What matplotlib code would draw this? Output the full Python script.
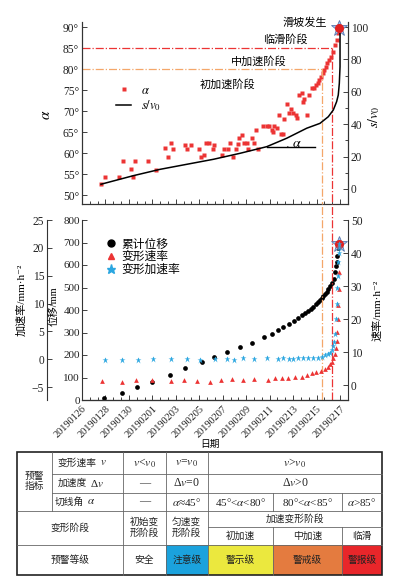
import numpy as np
import matplotlib
matplotlib.use('Agg')
import matplotlib.pyplot as plt
from matplotlib.ticker import MultipleLocator, FuncFormatter
from matplotlib.lines import Line2D
from matplotlib.patches import Rectangle, Arc

plt.rcParams['font.family'] = ['Liberation Serif', 'Noto Sans CJK SC', 'DejaVu Sans']
plt.rcParams['mathtext.fontset'] = 'stix'

############### data (x = days after 2019-01-26) ###############
alpha_day = [1.62, 1.99, 3.18, 3.52, 4.18, 4.38, 4.55, 5.6, 6.28, 7.08, 7.3, 7.62, 7.79,
             8.81, 8.95, 9.27, 9.97, 10.14, 10.4, 10.57, 10.85, 11.14, 11.28, 11.91, 12.1,
             12.42, 12.62, 12.9, 13.13, 13.33, 13.41, 13.61, 13.84, 14.04, 14.18, 14.47,
             14.66, 14.81, 15.03, 15.46, 15.75, 15.97, 16.17, 16.31, 16.39, 16.6, 16.82,
             16.97, 17.16, 17.25, 17.45, 17.67, 17.84, 18.02, 18.22, 18.36, 18.5, 18.73,
             18.81, 18.95, 19.21, 19.38, 19.58, 19.78, 19.95, 20.09, 20.23, 20.37, 20.52,
             20.63, 20.77, 20.91, 21.06, 21.23, 21.4, 21.57, 21.71, 21.85, 21.94]
alpha_val = [52.7, 54.4, 54.4, 58.0, 56.3, 54.4, 58.0, 58.0, 56.0, 61.1, 59.1, 62.3, 61.0,
             62.0, 61.0, 62.0, 61.0, 59.0, 59.5, 62.3, 62.3, 61.0, 62.0, 59.5, 61.0,
             61.0, 62.3, 59.1, 61.0, 62.1, 63.5, 64.4, 62.3, 62.3, 61.0, 63.5,
             62.3, 65.5, 61.0, 66.4, 66.4, 66.4, 65.5, 65.1, 66.4, 65.9, 69.0,
             64.5, 64.5, 68.0, 71.7, 69.6, 70.4, 69.6, 69.0, 68.3, 73.8, 74.2,
             72.2, 72.8, 69.0, 73.8, 75.4, 75.6, 76.2, 76.7, 77.4, 78.2, 79.0,
             79.8, 80.6, 81.4, 82.1, 82.9, 84.1, 85.7, 86.9, 88.5, 89.7]

sv_day = [1.62, 4.38, 6.65, 8.92, 11.2, 13.47, 15.75, 17.45, 19.16, 20.29, 21.0, 21.43,
          21.71, 21.85, 21.94, 22.0, 22.0, 22.0]
sv_val = [2.9, 8.2, 12.1, 15.2, 18.3, 22.0, 26.1, 31.3, 37.5, 40.5, 44.6, 48.8,
          53.9, 58.0, 65.2, 75.5, 92.0, 97.0]

disp_day = [1.88, 3.41, 4.72, 6.0, 7.5, 8.8, 10.23, 11.28, 12.33, 13.47, 14.49, 15.49,
            16.17, 16.74, 17.17, 17.65, 18.07, 18.44, 18.8, 19.05, 19.3, 19.5, 19.72,
            19.93, 20.15, 20.3, 20.43, 20.58, 20.72, 20.86, 21.0, 21.15, 21.3, 21.45,
            21.57, 21.65, 21.7, 21.78, 21.85, 21.9]
disp_val = [10, 33, 60, 82, 113, 141, 167, 191, 212, 234, 255, 279,
            295, 311, 324, 338, 351, 363, 378, 387, 396, 405, 415,
            426, 437, 445, 452, 461, 470, 481, 492, 505, 518, 540,
            570, 595, 615, 640, 675, 692]

rate_day = [1.73, 3.41, 4.6, 6.0, 7.56, 8.72, 9.77, 10.94, 11.82, 12.76, 13.75, 14.7,
            15.9, 16.48, 17.08, 17.6, 18.16, 18.73, 19.2, 19.57, 19.95, 20.35, 20.7,
            20.95, 21.14, 21.3, 21.43, 21.55, 21.65, 21.72, 21.77, 21.82, 21.85, 21.88,
            21.9, 21.93]
rate_val = [1.2, 1.0, 1.5, 1.7, 1.2, 1.6, 1.3, 1.0, 1.5, 1.8, 1.7, 1.9,
            1.7, 2.1, 2.2, 2.3, 2.4, 2.6, 3.2, 3.6, 4.0, 4.4, 5.0,
            5.6, 6.3, 7.1, 8.1, 9.5, 11.1, 13.5, 16.2, 20.0, 24.2, 29.0,
            34.3, 42.6]

acc_day = [1.96, 3.38, 4.8, 6.08, 7.56, 8.92, 10.06, 11.34, 12.33, 12.99, 13.75, 14.69,
           15.8, 16.74, 17.16, 17.65, 18.02, 18.44, 18.87, 19.3, 19.72, 20.15, 20.43,
           20.75, 21.0, 21.15, 21.29, 21.42, 21.51, 21.58, 21.65, 21.72, 21.77, 21.82,
           21.85, 21.88, 21.9, 21.93]
acc_val = [-0.2, -0.2, -0.1, 0.0, 0.0, 0.0, -0.1, 0.0, 0.0, -0.2, 0.15, 0.1,
           0.15, 0.1, 0.15, 0.05, 0.1, 0.15, 0.15, 0.2, 0.25, 0.3, 0.45,
           0.7, 0.93, 1.2, 1.65, 2.3, 3.15, 4.5, 7.3, 10.0, 12.7, 15.0,
           17.5, 19.0, 20.0, 20.6]

date_ticks = [0, 2, 4, 6, 8, 10, 12, 14, 16, 18, 20, 22]
date_labels = ['20190126', '20190128', '20190130', '20190201', '20190203', '20190205',
               '20190207', '20190209', '20190211', '20190213', '20190215', '20190217']

slide_day = 21.95
slide_disp = 692
t_orange = 20.46        # start of middle acceleration
t_red = 21.3            # start of imminent sliding
alpha_orange = 80
alpha_red = 85

RED = '#ec3434'
ORANGE = '#f4a76a'
BLUE = '#2aa6e0'

W, H = 396, 587
fig = plt.figure(figsize=(W / 100, H / 100), dpi=100)


def box(x0, y0, x1, y1):
    return [x0 / W, 1 - y1 / H, (x1 - x0) / W, (y1 - y0) / H]


def style(ax):
    for s in ax.spines.values():
        s.set_linewidth(0.8)
        s.set_color('#333333')
    ax.tick_params(which='both', direction='in', width=0.6, labelsize=8.3, colors='#222222', pad=2)
    ax.tick_params(which='major', length=3.5)
    ax.tick_params(which='minor', length=2)


XMAX = 22.68
######################## upper chart ########################
ax1 = fig.add_axes(box(82, 22, 348, 204))
ax1r = ax1.twinx()
for a in (ax1, ax1r):
    style(a)
    a.spines['top'].set_visible(False)
ax1.set_xlim(0, XMAX)
ax1.set_ylim(47.86, 91.2)
ax1r.set_ylim(-9.3, 103.1)
ax1.xaxis.set_major_locator(MultipleLocator(2))
ax1.xaxis.set_minor_locator(MultipleLocator(2 / 3))
ax1.set_xticklabels([])
ax1.yaxis.set_major_locator(MultipleLocator(5))
ax1.yaxis.set_major_formatter(FuncFormatter(lambda v, p: f'{v:.0f}°'))
ax1r.yaxis.set_major_locator(MultipleLocator(20))
ax1r.yaxis.set_minor_locator(MultipleLocator(10))

ax1.plot(alpha_day, alpha_val, 's', color=RED, ms=2.4, mec='none')
ax1r.plot(sv_day, sv_val, '-', color='k', lw=1.1)
# tangent line + angle
ax1r.plot([15.75, 19.86], [25.7, 25.7], color='k', lw=1.0)
ax1r.add_patch(Arc((15.75, 25.7), 2 * 1.8, 2 * 13.0, theta1=0, theta2=22, color='k', lw=0.7))
ax1r.text(18.3, 28.3, r'$\alpha$', fontsize=10, ha='center', va='center')

ax1.plot([0, t_red], [alpha_red, alpha_red], ls='-.', color=RED, lw=0.9)
ax1.plot([0, t_orange], [alpha_orange, alpha_orange], ls='-.', color=ORANGE, lw=0.9)
ax1.plot([t_red, t_red], [alpha_red, 47.86], ls='-.', color=RED, lw=0.9)
ax1.plot([t_orange, t_orange], [alpha_orange, 47.86], ls='-.', color=ORANGE, lw=0.9)
ax1r.plot(slide_day, 99.3, marker='*', ms=12, color='#a8c6ee', mec='#5a78b0', mew=0.6, clip_on=False)
ax1r.plot(slide_day, 99.3, 'o', ms=5.5, color='#e02020', clip_on=False)

ax1.text(20.9, 91.0, '滑坡发生', fontsize=8, ha='right', va='center')
ax1.text(17.3, 87.1, '临滑阶段', fontsize=8, ha='center', va='center')
ax1.text(15.05, 81.9, '中加速阶段', fontsize=8, ha='center', va='center')
ax1.text(12.37, 76.4, '初加速阶段', fontsize=8, ha='center', va='center')

h1 = [Line2D([], [], marker='s', ls='none', color=RED, ms=2.5, mec='none'),
      Line2D([], [], color='k', lw=1.1)]
ax1r.legend(h1, [r'$\alpha$', r'$s/v_0$'], loc='upper left', bbox_to_anchor=(0.105, 0.69),
            frameon=False, fontsize=9, borderpad=0, handlelength=1.2, handletextpad=0.8,
            labelspacing=0.1)

fig.text(47 / W, 1 - 115 / H, r'$\alpha$', rotation=90, fontsize=11, ha='center', va='center')
fig.text(374 / W, 1 - 117 / H, r'$s/v_0$', rotation=90, fontsize=10, ha='center', va='center')

######################## lower chart ########################
ax2 = fig.add_axes(box(82, 220, 348, 400))
ax2v = ax2.twinx()
ax2a = ax2.twinx()
for a in (ax2, ax2v, ax2a):
    style(a)
    a.spines['top'].set_visible(False)
ax2a.spines['right'].set_visible(False)
ax2a.spines['left'].set_position(('outward', 25.2))
ax2a.yaxis.set_ticks_position('left')
ax2a.yaxis.set_label_position('left')
ax2.spines['right'].set_visible(False)
ax2v.spines['left'].set_visible(False)

ax2.set_xlim(0, XMAX)
ax2.set_ylim(0, 800)
ax2v.set_ylim(-4.5, 50)
ax2a.set_ylim(-7.33, 25)
ax2.yaxis.set_major_locator(MultipleLocator(100))
ax2.tick_params(axis='y', labelsize=8, pad=1.5)
ax2v.yaxis.set_major_locator(MultipleLocator(10))
ax2a.yaxis.set_major_locator(MultipleLocator(5))
ax2a.yaxis.set_major_formatter(FuncFormatter(lambda v, p: f'{v:.0f}'.replace('-', '−')))
ax2.xaxis.set_minor_locator(MultipleLocator(2 / 3))
ax2.set_xticks(date_ticks)
ax2.set_xticklabels(date_labels, rotation=45, ha='right', va='top', rotation_mode='anchor',
                    fontsize=7.4)
ax2.tick_params(axis='x', pad=3)

ax2.plot(disp_day, disp_val, 'o', color='k', ms=3.4, mec='none')
ax2v.plot(rate_day, rate_val, '^', color=RED, ms=3.4, mec='none')
ax2a.plot(acc_day, acc_val, '*', color=BLUE, ms=4.6, mec='none')
ax2.plot(slide_day, slide_disp, marker='*', ms=12, color='#a8c6ee', mec='#5a78b0', mew=0.6, clip_on=False)
ax2.plot(slide_day, slide_disp, 'o', ms=5.5, color='#e02020', clip_on=False)

ax2.axvline(t_orange, 0, 1.09, ls='-.', color=ORANGE, lw=0.9, clip_on=False)
ax2.axvline(t_red, 0, 1.09, ls='-.', color=RED, lw=0.9, clip_on=False)

h2 = [Line2D([], [], marker='o', ls='none', color='k', ms=5),
      Line2D([], [], marker='^', ls='none', color=RED, ms=5),
      Line2D([], [], marker='*', ls='none', color=BLUE, ms=6.5)]
ax2a.legend(h2, ['累计位移', '变形速率', '变形加速率'], loc='upper left',
            bbox_to_anchor=(0.065, 0.93), frameon=False, fontsize=8.5, borderpad=0,
            handlelength=0.9, handletextpad=0.5, labelspacing=0.05)

fig.text(21 / W, 1 - 300 / H, '加速率/mm·h⁻²', rotation=90, fontsize=8, ha='center', va='center')
fig.text(54 / W, 1 - 306 / H, '位移/mm', rotation=90, fontsize=7.5, ha='center', va='center')
fig.text(377 / W, 1 - 310 / H, '速率/mm·h⁻²', rotation=90, fontsize=8, ha='center', va='center')
fig.text(210 / W, 1 - 444 / H, '日期', fontsize=7, ha='center', va='center')

######################## warning table ########################
tab = fig.add_axes([0, 0, 1, 1])
tab.set_xlim(0, W)
tab.set_ylim(H, 0)
tab.axis('off')
cx = [17.3, 52.3, 122.7, 165.7, 207.7, 273.3, 341.7, 382.3]
ry = [451.7, 474, 492.7, 510.7, 527.3, 545, 575]
fills = ['#1ba2dd', '#ebe83e', '#e47b3f', '#e8262a']
for i, c in enumerate(fills):
    tab.add_patch(Rectangle((cx[3 + i], ry[5]), cx[4 + i] - cx[3 + i], ry[6] - ry[5], color=c, lw=0))

g = dict(color='#666666', lw=0.6)
tab.plot([cx[1], cx[7]], [ry[1], ry[1]], **g)
tab.plot([cx[1], cx[7]], [ry[2], ry[2]], **g)
tab.plot([cx[0], cx[7]], [ry[3], ry[3]], **g)
tab.plot([cx[4], cx[7]], [ry[4], ry[4]], **g)
tab.plot([cx[0], cx[7]], [ry[5], ry[5]], **g)
tab.plot([cx[1], cx[1]], [ry[0], ry[3]], **g)
for k in (2, 3, 4):
    tab.plot([cx[k], cx[k]], [ry[0], ry[6]], **g)
for k in (5, 6):
    tab.plot([cx[k], cx[k]], [ry[2], ry[3]], **g)
    tab.plot([cx[k], cx[k]], [ry[4], ry[6]], **g)
tab.add_patch(Rectangle((cx[0], ry[0]), cx[7] - cx[0], ry[6] - ry[0], fill=False, ec='#222222', lw=1.2))

TXT = '#222222'


def cell(c0, c1, r0, r1, s, size=7, **kw):
    tab.text((cx[c0] + cx[c1]) / 2, (ry[r0] + ry[r1]) / 2, s, ha='center', va='center',
             fontsize=size, color=TXT, linespacing=1.15, **kw)


def row_head(x, r, zh, sym):
    y = (ry[r] + ry[r + 1]) / 2
    tab.text(x, y, zh, fontsize=7, va='center', color=TXT)
    n = len(zh.strip())
    tab.text(x + n * 9.9 + 3, y, sym, fontsize=8, va='center', color=TXT)


cell(0, 1, 0, 3, '预警\n指标')
row_head(cx[1] + 5, 0, '变形速率', '$v$')
row_head(cx[1] + 5, 1, '加速度', 'Δ$v$')
row_head(cx[1] + 2, 2, '切线角', r'$\alpha$')
cell(2, 3, 0, 1, '$v$<$v_0$', 8.5)
cell(3, 4, 0, 1, '$v$=$v_0$', 8.5)
cell(4, 7, 0, 1, '$v$>$v_0$', 8.5)
cell(2, 3, 1, 2, '—', 8)
cell(3, 4, 1, 2, 'Δ$v$=0', 8.5)
cell(4, 7, 1, 2, 'Δ$v$>0', 8.5)
cell(2, 3, 2, 3, '—', 8)
cell(3, 4, 2, 3, '$\\alpha$≈45°', 8)
cell(4, 5, 2, 3, '45°<$\\alpha$<80°', 8)
cell(5, 6, 2, 3, '80°<$\\alpha$<85°', 8)
cell(6, 7, 2, 3, '$\\alpha$>85°', 8)
cell(0, 2, 3, 5, '变形阶段')
cell(2, 3, 3, 5, '初始变\n形阶段')
cell(3, 4, 3, 5, '匀速变\n形阶段')
cell(4, 7, 3, 4, '加速变形阶段')
cell(4, 5, 4, 5, '初加速')
cell(5, 6, 4, 5, '中加速')
cell(6, 7, 4, 5, '临滑')
cell(0, 2, 5, 6, '预警等级')
cell(2, 3, 5, 6, '安全')
cell(3, 4, 5, 6, '注意级')
cell(4, 5, 5, 6, '警示级')
cell(5, 6, 5, 6, '警戒级')
cell(6, 7, 5, 6, '警报级')

fig.savefig('out.png', dpi=100)
